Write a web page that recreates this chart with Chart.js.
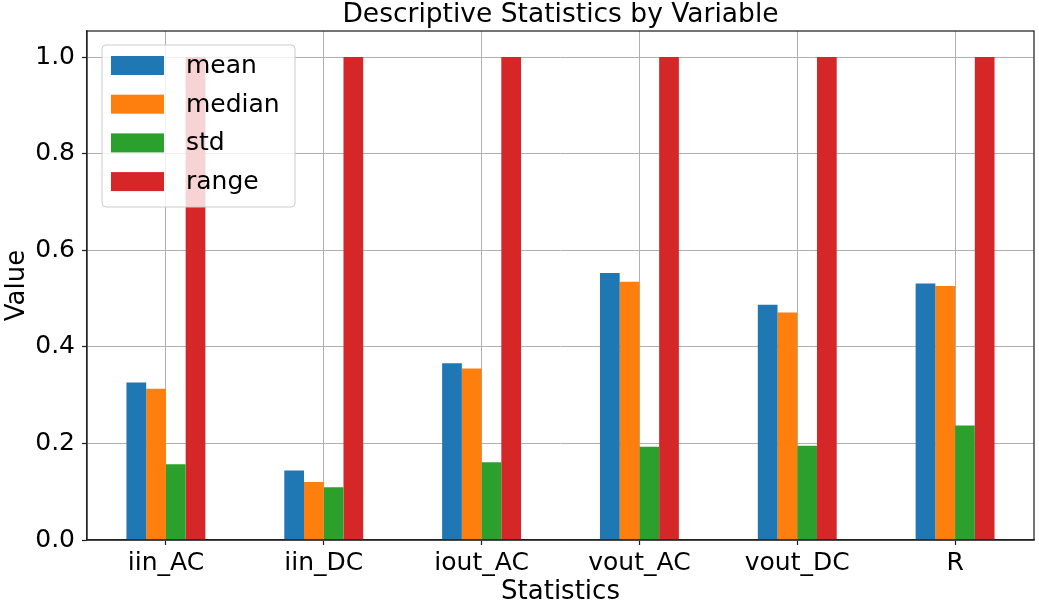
<!DOCTYPE html>
<html>
<head>
<meta charset="utf-8">
<script src="https://cdn.jsdelivr.net/npm/chart.js@4/dist/chart.umd.min.js"></script>
<style>
  html, body { margin: 0; padding: 0; background: #ffffff; }
  #wrap { width: 1039px; height: 605px; }
</style>
</head>
<body>
<div id="wrap"><canvas id="c" width="1039" height="605"></canvas></div>
<script>
const categories = ['iin_AC', 'iin_DC', 'iout_AC', 'vout_AC', 'vout_DC', 'R'];
const meanValues   = [0.326, 0.144, 0.366, 0.553, 0.487, 0.531];
const medianValues = [0.313, 0.120, 0.355, 0.535, 0.471, 0.526];
const stdValues    = [0.157, 0.109, 0.161, 0.193, 0.195, 0.237];
const rangeValues  = [1.0, 1.0, 1.0, 1.0, 1.0, 1.0];
const seriesNames  = ['mean', 'median', 'std', 'range'];
const yTickValues  = [0.0, 0.2, 0.4, 0.6, 0.8, 1.0];

const colors = ['#1f77b4', '#ff7f0e', '#2ca02c', '#d62728'];
const FONT = "'DejaVu Sans', sans-serif";

const frameAndLegend = {
  id: 'frameAndLegend',
  afterDraw(chart) {
    const ctx = chart.ctx;
    const a = chart.chartArea;
    ctx.save();
    ctx.strokeStyle = '#222';
    ctx.lineWidth = 1.25;
    ctx.strokeRect(a.left, a.top, a.right - a.left, a.bottom - a.top);
    const x0 = 102, y0 = 45, w = 193, h = 162, r = 4;
    ctx.beginPath();
    ctx.moveTo(x0 + r, y0);
    ctx.lineTo(x0 + w - r, y0);
    ctx.quadraticCurveTo(x0 + w, y0, x0 + w, y0 + r);
    ctx.lineTo(x0 + w, y0 + h - r);
    ctx.quadraticCurveTo(x0 + w, y0 + h, x0 + w - r, y0 + h);
    ctx.lineTo(x0 + r, y0 + h);
    ctx.quadraticCurveTo(x0, y0 + h, x0, y0 + h - r);
    ctx.lineTo(x0, y0 + r);
    ctx.quadraticCurveTo(x0, y0, x0 + r, y0);
    ctx.closePath();
    ctx.fillStyle = 'rgba(255,255,255,0.8)';
    ctx.fill();
    ctx.strokeStyle = '#cccccc';
    ctx.lineWidth = 1;
    ctx.stroke();
    ctx.font = '25px ' + FONT;
    ctx.textBaseline = 'middle';
    ctx.textAlign = 'left';
    chart.data.datasets.forEach((ds, i) => {
      const cy = 65.5 + i * 38.7;
      ctx.fillStyle = ds.backgroundColor;
      ctx.fillRect(111, cy - 9.5, 53, 19);
      ctx.fillStyle = '#000';
      ctx.fillText(ds.label, 186, cy + 1);
    });
    ctx.restore();
  }
};

const allSeries = [meanValues, medianValues, stdValues, rangeValues];

new Chart(document.getElementById('c'), {
  type: 'bar',
  data: {
    labels: categories,
    datasets: seriesNames.map((name, i) => ({
      label: name,
      data: allSeries[i],
      backgroundColor: colors[i],
      borderWidth: 0,
      barPercentage: 1.0,
      categoryPercentage: 0.5
    }))
  },
  options: {
    responsive: false,
    animation: false,
    layout: { padding: { top: 0, right: 5, left: 0, bottom: 0 } },
    plugins: {
      legend: { display: false },
      tooltip: { enabled: false },
      title: {
        display: true,
        fullSize: false,
        text: 'Descriptive Statistics by Variable',
        color: '#000',
        font: { family: FONT, size: 26.5, weight: 'normal', lineHeight: 1.17 },
        padding: { top: 0, bottom: 0 }
      }
    },
    scales: {
      x: {
        z: 1,
        offset: true,
        grid: {
          offset: false,
          color: '#b0b0b0',
          lineWidth: 1,
          drawTicks: true,
          tickLength: 5,
          tickColor: '#222',
          tickWidth: 1.25
        },
        border: { display: true, color: '#222', width: 1.25 },
        ticks: {
          color: '#000',
          font: { family: FONT, size: 25 },
          padding: 3,
          maxRotation: 0
        },
        title: {
          display: true,
          text: 'Statistics',
          color: '#000',
          font: { family: FONT, size: 26, lineHeight: 1.0 },
          padding: { top: 0, bottom: 0 }
        },
        afterFit(scale) { scale.height = 65; }
      },
      y: {
        z: 1,
        min: 0,
        max: 1.054,
        grid: {
          color: '#b0b0b0',
          lineWidth: 1,
          drawTicks: true,
          tickLength: 5,
          tickColor: '#222',
          tickWidth: 1.25
        },
        border: { display: true, color: '#222', width: 1.25 },
        afterBuildTicks(scale) {
          scale.ticks = yTickValues.map(v => ({ value: v }));
        },
        ticks: {
          color: '#000',
          font: { family: FONT, size: 25 },
          padding: 7,
          callback: (v) => Number(v).toFixed(1)
        },
        title: {
          display: true,
          text: 'Value',
          color: '#000',
          font: { family: FONT, size: 26 },
          padding: { top: 2, bottom: 0 }
        },
        afterFit(scale) { scale.width = 87; }
      }
    }
  },
  plugins: [frameAndLegend]
});
</script>
</body>
</html>
